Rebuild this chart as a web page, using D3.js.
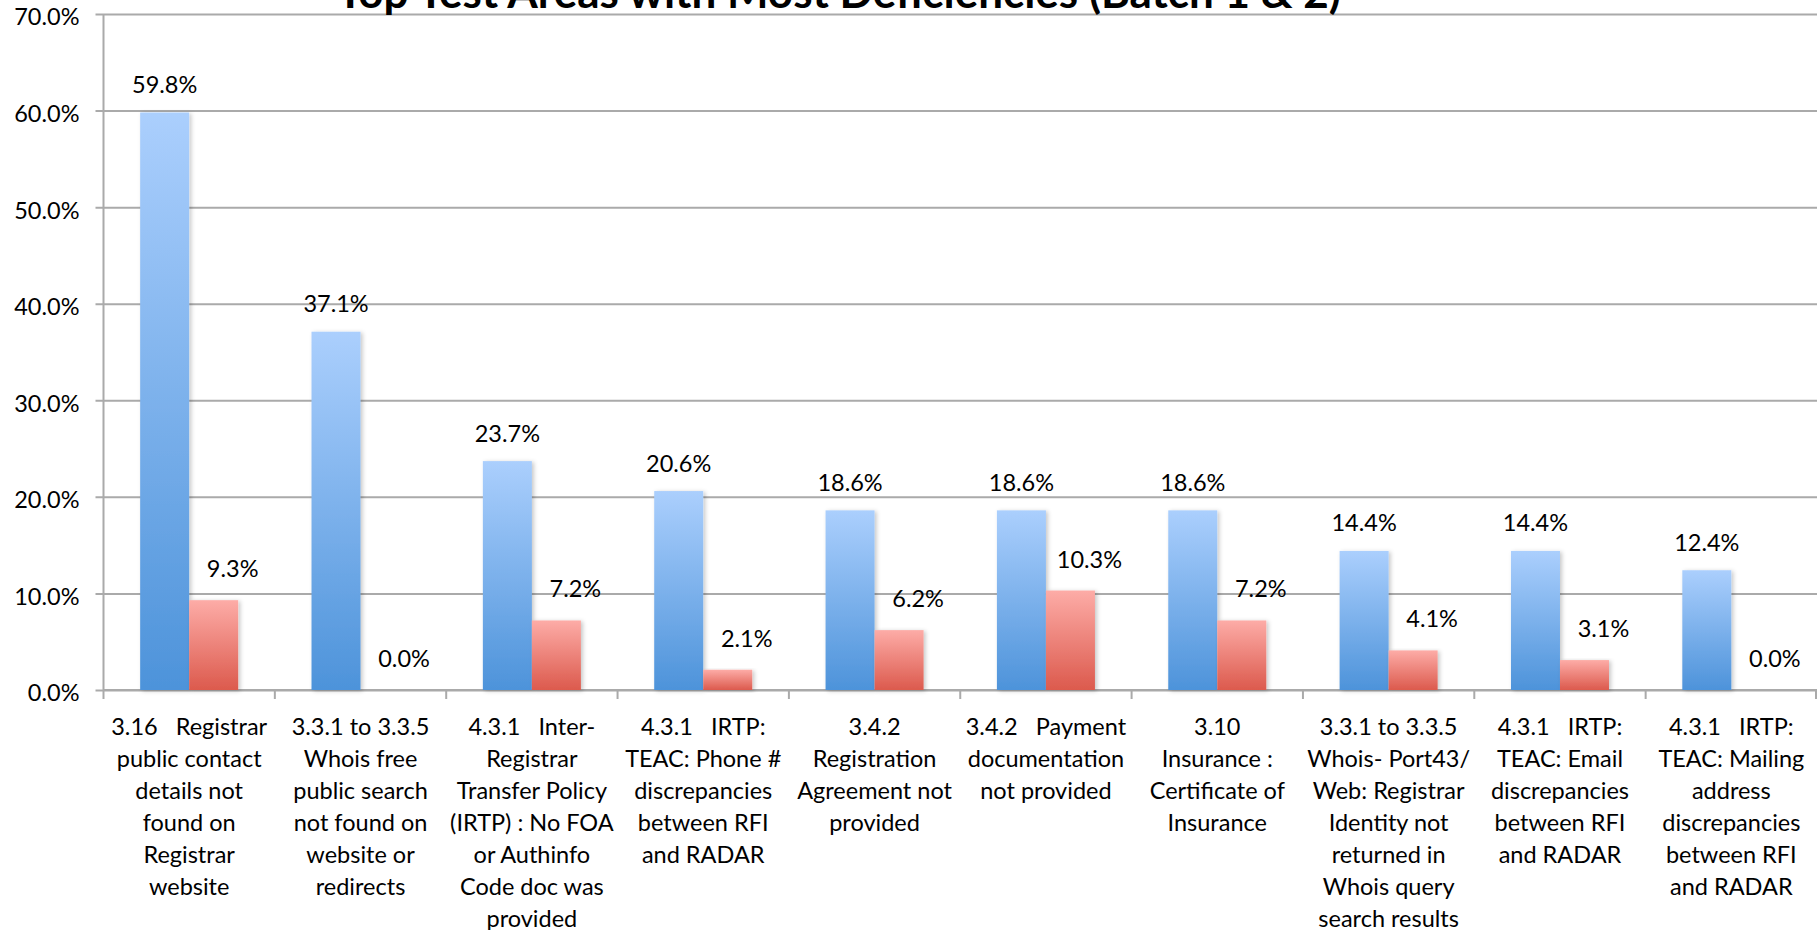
<!DOCTYPE html>
<html>
<head>
<meta charset="utf-8">
<script src="https://cdn.jsdelivr.net/npm/d3@7/dist/d3.min.js"></script>
<style>
  html, body { margin: 0; padding: 0; background: #fff; overflow: hidden; }
  svg { display: block; }
  text { font-family: Lato, "Open Sans", sans-serif; fill: #000; }
</style>
</head>
<body>
<svg id="chart" width="1817" height="930"></svg>
<script>
// ---------- data ----------
const title = "Top Test Areas with Most Deficiencies (Batch 1 & 2)";
const categories = [
  "3.16   Registrar\npublic contact\ndetails not\nfound on\nRegistrar\nwebsite",
  "3.3.1 to 3.3.5\nWhois free\npublic search\nnot found on\nwebsite or\nredirects",
  "4.3.1   Inter-\nRegistrar\nTransfer Policy\n(IRTP) : No FOA\nor Authinfo\nCode doc was\nprovided",
  "4.3.1   IRTP:\nTEAC: Phone #\ndiscrepancies\nbetween RFI\nand RADAR",
  "3.4.2\nRegistration\nAgreement not\nprovided",
  "3.4.2   Payment\ndocumentation\nnot provided",
  "3.10\nInsurance :\nCertificate of\nInsurance",
  "3.3.1 to 3.3.5\nWhois- Port43/\nWeb: Registrar\nIdentity not\nreturned in\nWhois query\nsearch results",
  "4.3.1   IRTP:\nTEAC: Email\ndiscrepancies\nbetween RFI\nand RADAR",
  "4.3.1   IRTP:\nTEAC: Mailing\naddress\ndiscrepancies\nbetween RFI\nand RADAR"
];
const seriesBlue = [59.8, 37.1, 23.7, 20.6, 18.6, 18.6, 18.6, 14.4, 14.4, 12.4];
const seriesRed  = [9.3, 0.0, 7.2, 2.1, 6.2, 10.3, 7.2, 4.1, 3.1, 0.0];
const yTicks = [0, 10, 20, 30, 40, 50, 60, 70];

// ---------- layout ----------
const W = 1817, H = 930;
const mLeft = 103.5, mRight = 1817, mTop = 14, mBottom = 690;
const svg = d3.select("#chart");

const defs = svg.append("defs");
function grad(id, c1, c2) {
  const g = defs.append("linearGradient").attr("id", id)
    .attr("x1", 0).attr("y1", 0).attr("x2", 0).attr("y2", 1);
  g.append("stop").attr("offset", "0%").attr("stop-color", c1);
  g.append("stop").attr("offset", "100%").attr("stop-color", c2);
}
grad("gBlue", "#abcffd", "#4d93da");
grad("gRed", "#fdaca7", "#dc5a4d");
const f = defs.append("filter").attr("id", "shadow")
  .attr("x", "-20%").attr("y", "-5%").attr("width", "150%").attr("height", "115%");
f.append("feDropShadow").attr("dx", 2).attr("dy", 1).attr("stdDeviation", 2)
  .attr("flood-color", "#000").attr("flood-opacity", 0.22);

const idx = d3.range(categories.length);
const x = d3.scaleBand().domain(idx).range([mLeft, mRight]).paddingInner(0).paddingOuter(0);
const xs = d3.scaleBand().domain(["blue", "red"]).range([0, x.bandwidth()])
  .paddingInner(0).paddingOuter(0.748);
const y = d3.scaleLinear().domain([0, 70]).range([mBottom, mTop]);

const gridColor = "#aaaaaa";

// y axis with gridlines
const yAxis = d3.axisLeft(y).tickValues(yTicks)
  .tickFormat(d => d3.format(".1f")(d) + "%")
  .tickSize(-(mRight - mLeft)).tickSizeOuter(0).tickPadding(24);
const gy = svg.append("g").attr("transform", `translate(${mLeft},0)`).call(yAxis);
gy.select(".domain").remove();
gy.selectAll(".tick line").attr("x1", -8).attr("stroke", gridColor).attr("stroke-width", 2);
gy.selectAll(".tick text").attr("font-size", 23.5).attr("font-family", "Lato").attr("fill", "#000")
  .attr("dy", "0.38em").attr("y", 2);
svg.append("line").attr("x1", mLeft).attr("x2", mLeft).attr("y1", mTop).attr("y2", mBottom)
  .attr("stroke", gridColor).attr("stroke-width", 2);

// x axis baseline and ticks
svg.append("line").attr("x1", mLeft).attr("x2", mRight).attr("y1", y(0)).attr("y2", y(0))
  .attr("stroke", gridColor).attr("stroke-width", 2);
const edges = idx.map(i => x(i)).concat([mRight - 1]);
svg.append("g").selectAll("line").data(edges).join("line")
  .attr("x1", d => d).attr("x2", d => d).attr("y1", y(0)).attr("y2", y(0) + 9)
  .attr("stroke", gridColor).attr("stroke-width", 2);

// bars
const bars = svg.append("g");
bars.selectAll("rect.blue").data(seriesBlue).join("rect").attr("class", "blue")
  .attr("x", (d, i) => x(i) + xs("blue")).attr("width", xs.bandwidth())
  .attr("y", d => y(d)).attr("height", d => y(0) - y(d))
  .attr("fill", "url(#gBlue)").attr("filter", "url(#shadow)");
bars.selectAll("rect.red").data(seriesRed).join("rect").attr("class", "red")
  .attr("x", (d, i) => x(i) + xs("red")).attr("width", xs.bandwidth())
  .attr("y", d => y(d)).attr("height", d => y(0) - y(d))
  .attr("fill", "url(#gRed)").attr("filter", d => d > 0 ? "url(#shadow)" : null);

// data labels
const fmt = d => d3.format(".1f")(d) + "%";
svg.append("g").selectAll("text").data(seriesBlue).join("text")
  .attr("x", (d, i) => x(i) + xs("blue") + xs.bandwidth() / 2)
  .attr("y", d => y(d) - 19.5)
  .attr("text-anchor", "middle").attr("font-size", 23.5).text(fmt);
svg.append("g").selectAll("text").data(seriesRed).join("text")
  .attr("x", (d, i) => x(i) + xs("red") + xs.bandwidth() / 2 + 19)
  .attr("y", d => y(d) - 23)
  .attr("text-anchor", "middle").attr("font-size", 23.5).text(fmt);

// category labels
const cl = svg.append("g");
categories.forEach((c, i) => {
  const t = cl.append("text").attr("text-anchor", "middle").attr("font-size", 23.5)
    .attr("xml:space", "preserve").style("white-space", "pre");
  c.split("\n").forEach((line, k) => {
    t.append("tspan").attr("x", x(i) + x.bandwidth() / 2).attr("y", 735 + k * 32).text(line);
  });
});

// title
svg.append("text").attr("x", 839).attr("y", 8).attr("text-anchor", "middle")
  .attr("font-size", 44).attr("font-weight", "bold").text(title);
</script>
</body>
</html>
